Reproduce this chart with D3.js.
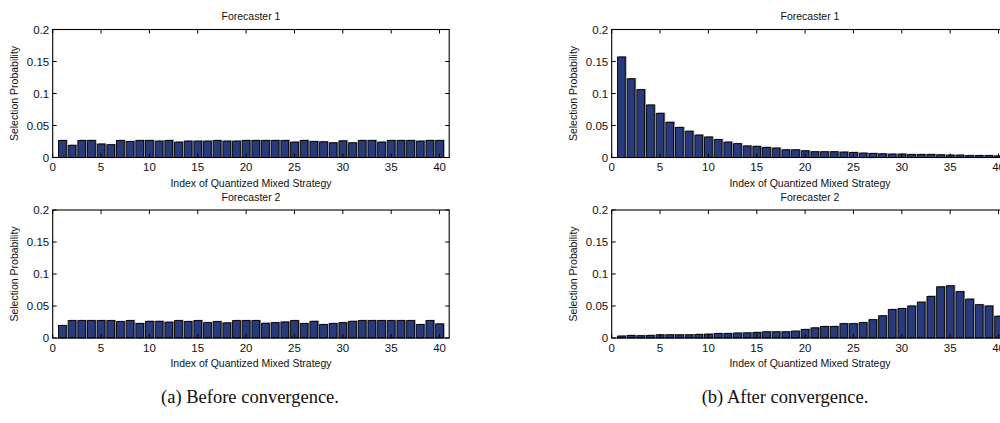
<!DOCTYPE html>
<html>
<head>
<meta charset="utf-8">
<script src="https://cdnjs.cloudflare.com/ajax/libs/d3/7.8.5/d3.min.js"></script>
<style>
  body { margin: 0; background: #fff; }
  svg { display: block; }
  .tick-label { font-family: "Liberation Sans", Arial, sans-serif; font-size: 11.5px; fill: #111; }
  .axis-title { font-family: "Liberation Sans", Arial, sans-serif; font-size: 10.5px; fill: #111; }
  .caption { font-family: "Liberation Serif", "DejaVu Serif", serif; font-size: 18.5px; fill: #111; }
</style>
</head>
<body>
<svg width="1000" height="423"></svg>
<script>
// strategy index 1..40
var strategyIndex = d3.range(1, 41);

// (a) before convergence
var beforeForecaster1 = [
  0.0266, 0.019, 0.0266, 0.0266, 0.021, 0.020, 0.0266, 0.025, 0.0266, 0.0266,
  0.0256, 0.0266, 0.024, 0.0256, 0.0256, 0.0256, 0.0266, 0.0256, 0.0256, 0.0266,
  0.0266, 0.0266, 0.0266, 0.0266, 0.024, 0.0266, 0.025, 0.0245, 0.023, 0.026,
  0.023, 0.0266, 0.0266, 0.024, 0.0266, 0.0266, 0.0266, 0.0256, 0.0266, 0.0266
];
var beforeForecaster2 = [
  0.0195, 0.0272, 0.0272, 0.0272, 0.0272, 0.0272, 0.0257, 0.0272, 0.0226, 0.026,
  0.026, 0.0247, 0.0272, 0.0257, 0.0272, 0.024, 0.0257, 0.0236, 0.0272, 0.0272,
  0.0272, 0.023, 0.024, 0.025, 0.0272, 0.0226, 0.026, 0.021, 0.0226, 0.024,
  0.026, 0.0272, 0.0272, 0.0272, 0.0272, 0.0272, 0.0272, 0.021, 0.0272, 0.022
];

// (b) after convergence
var afterForecaster1 = [
  0.157, 0.123, 0.106, 0.082, 0.069, 0.055, 0.047, 0.041, 0.035, 0.032,
  0.028, 0.024, 0.0216, 0.018, 0.0174, 0.0158, 0.0147, 0.012, 0.012, 0.0105,
  0.009, 0.009, 0.009, 0.0084, 0.0079, 0.0068, 0.0063, 0.0058, 0.0053, 0.0053,
  0.0047, 0.0047, 0.0047, 0.0042, 0.0037, 0.0037, 0.003, 0.003, 0.003, 0.0026
];
var afterForecaster2 = [
  0.003, 0.004, 0.0036, 0.004, 0.005, 0.005, 0.005, 0.005, 0.0056, 0.006,
  0.007, 0.007, 0.0077, 0.008, 0.0087, 0.0097, 0.0097, 0.0097, 0.0107, 0.0133,
  0.0158, 0.0179, 0.0179, 0.0224, 0.0224, 0.024, 0.0286, 0.0347, 0.0444, 0.046,
  0.05, 0.056, 0.065, 0.080, 0.0816, 0.0724, 0.0607, 0.052, 0.050, 0.034
];

var xTicks = [0, 5, 10, 15, 20, 25, 30, 35, 40];
var yTicks = [0, 0.05, 0.1, 0.15, 0.2];
var yTickLabels = ["0", "0.05", "0.1", "0.15", "0.2"];

var xTitle = "Index of Quantized Mixed Strategy";
var yTitle = "Selection Probability";
var captions = ["(a) Before convergence.", "(b) After convergence."];

var svg = d3.select("svg");

var plotW = 396.5, plotH = 128, tickLen = 4;
var barColor = "#283a7c";

function drawPanel(left, top, values, title) {
  var x = d3.scaleLinear().domain([0, 41]).range([left, left + plotW]);
  var y = d3.scaleLinear().domain([0, 0.2]).range([top + plotH, top]);
  var bw = x(0.8) - x(0);

  var g = svg.append("g");

  // bar shadows
  g.selectAll(".shadow")
    .data(values)
    .enter().append("rect")
      .attr("x", function(d, i) { return x(strategyIndex[i]) - bw / 2 + 1.3; })
      .attr("y", function(d) { return y(d) - 0.8; })
      .attr("width", bw)
      .attr("height", function(d) { return y(0) - y(d) + 0.8; })
      .attr("fill", "#8c8c8c");

  g.selectAll(".bar")
    .data(values)
    .enter().append("rect")
      .attr("class", "bar")
      .attr("x", function(d, i) { return x(strategyIndex[i]) - bw / 2; })
      .attr("y", function(d) { return y(d); })
      .attr("width", bw)
      .attr("height", function(d) { return y(0) - y(d); })
      .attr("fill", barColor)
      .attr("stroke", "#000")
      .attr("stroke-width", 0.9);

  // box
  g.append("rect")
    .attr("x", x(0)).attr("y", y(0.2))
    .attr("width", x(41) - x(0)).attr("height", y(0) - y(0.2))
    .attr("fill", "none").attr("stroke", "#000").attr("stroke-width", 1.1);

  // inner ticks
  xTicks.forEach(function(t) {
    g.append("line").attr("x1", x(t)).attr("x2", x(t))
      .attr("y1", y(0)).attr("y2", y(0) - tickLen).attr("stroke", "#000");
    g.append("line").attr("x1", x(t)).attr("x2", x(t))
      .attr("y1", y(0.2)).attr("y2", y(0.2) + tickLen).attr("stroke", "#000");
    g.append("text").attr("class", "tick-label")
      .attr("x", x(t)).attr("y", y(0) + 13.5)
      .attr("text-anchor", "middle").text(t);
  });
  yTicks.forEach(function(t, i) {
    g.append("line").attr("x1", x(0)).attr("x2", x(0) + tickLen)
      .attr("y1", y(t)).attr("y2", y(t)).attr("stroke", "#000");
    g.append("line").attr("x1", x(41)).attr("x2", x(41) - tickLen)
      .attr("y1", y(t)).attr("y2", y(t)).attr("stroke", "#000");
    g.append("text").attr("class", "tick-label")
      .attr("x", x(0) - 3.5).attr("y", y(t) + 4)
      .attr("text-anchor", "end").text(yTickLabels[i]);
  });

  var cx = (x(0) + x(41)) / 2;
  g.append("text").attr("class", "axis-title")
    .attr("x", cx).attr("y", top - 9.5)
    .attr("text-anchor", "middle").text(title);
  g.append("text").attr("class", "axis-title")
    .attr("x", cx).attr("y", y(0) + 29)
    .attr("text-anchor", "middle").text(xTitle);
  g.append("text").attr("class", "axis-title")
    .attr("transform", "translate(" + (x(0) - 35) + "," + (top + plotH / 2) + ") rotate(-90)")
    .attr("text-anchor", "middle").text(yTitle);
}

drawPanel(52.7, 29.5, beforeForecaster1, "Forecaster 1");
drawPanel(52.7, 210, beforeForecaster2, "Forecaster 2");
drawPanel(611.7, 29.5, afterForecaster1, "Forecaster 1");
drawPanel(611.7, 210, afterForecaster2, "Forecaster 2");

svg.append("text").attr("class", "caption")
  .attr("x", 250).attr("y", 403).attr("text-anchor", "middle").text(captions[0]);
svg.append("text").attr("class", "caption")
  .attr("x", 785).attr("y", 403).attr("text-anchor", "middle").text(captions[1]);
</script>
</body>
</html>
